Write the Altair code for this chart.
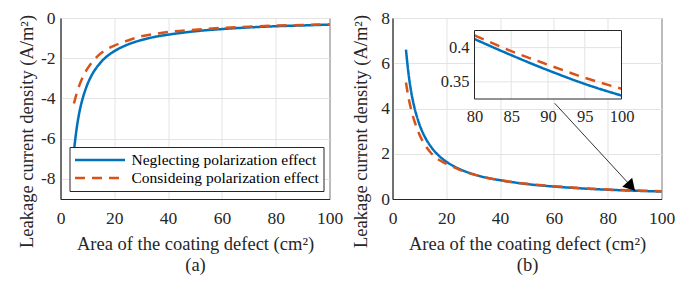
import altair as alt
import pandas as pd

FONT = "Liberation Serif"
BLUE = "#0072BD"
ORANGE = "#D95319"
INK = "#262626"
GRID = "#e3e3e3"

SERIES = ["Neglecting polarization effect", "Consideing polarization effect"]

# ---- data ----
area = [5, 6, 7, 8, 9, 10, 12, 14, 16, 18, 20, 25, 30, 35, 40, 50, 60, 70, 80, 90, 100]
a_neglect = [-6.6, -5.5, -4.7, -4.12, -3.67, -3.3, -2.75, -2.36, -2.06, -1.83, -1.65,
             -1.32, -1.1, -0.94, -0.83, -0.66, -0.55, -0.47, -0.41, -0.37, -0.33]
a_consider = [-4.25, -3.75, -3.35, -3.02, -2.75, -2.52, -2.15, -1.87, -1.66, -1.5, -1.37,
              -1.12, -0.91, -0.79, -0.7, -0.58, -0.49, -0.43, -0.38, -0.345, -0.315]
b_neglect = [6.6, 5.5, 4.7, 4.12, 3.67, 3.3, 2.75, 2.36, 2.06, 1.83, 1.65,
             1.32, 1.1, 0.94, 0.83, 0.66, 0.55, 0.47, 0.41, 0.367, 0.33]
b_consider = [5.15, 4.45, 3.92, 3.5, 3.15, 2.85, 2.4, 2.08, 1.84, 1.68, 1.56,
              1.29, 1.09, 0.94, 0.83, 0.67, 0.565, 0.485, 0.418, 0.375, 0.34]

inset_area = [80, 85, 90, 95, 100]
inset_neglect = [0.4125, 0.389, 0.367, 0.347, 0.330]
inset_consider = [0.418, 0.395, 0.375, 0.356, 0.340]

x_ticks = [0, 20, 40, 60, 80, 100]
a_yticks = [-8, -6, -4, -2, 0]
b_yticks = [0, 2, 4, 6, 8]
inset_xticks = [80, 85, 90, 95, 100]
inset_yticks = [0.35, 0.4]
inset_xdomain = [80, 100]
inset_ydomain = [0.325, 0.425]

arrow_x = [60.3, 90.3]
arrow_y = [4.23, 0.36]
head_xy = [88.7, 0.55]

X_TITLE = "Area of the coating defect (cm²)"
Y_TITLE = "Leakage current density (A/m²)"

# ---- layout (styling only) ----
W, H = 269, 181
INSET_XR = [82, 229]
INSET_YR = [81, 12.5]
TITLE_Y = 113


def long_df(xs, s1, s2):
    rows = []
    for name, ys in zip(SERIES, [s1, s2]):
        for x, y in zip(xs, ys):
            rows.append({"x": x, "y": y, "series": name})
    return pd.DataFrame(rows)


color_scale = alt.Scale(domain=SERIES, range=[BLUE, ORANGE])
dash_scale = alt.Scale(domain=SERIES, range=[[1, 0], [10, 7]])
minus_fix = "replace(datum.label, '\u2212', '-')"

legend = alt.Legend(
    orient="none", legendX=9, legendY=129, title=None,
    fillColor="white", strokeColor=INK, padding=4,
    labelFont=FONT, labelFontSize=15.5, labelColor="black", labelLimit=400,
    symbolType="stroke", symbolSize=2500, symbolStrokeWidth=2.5,
    clipHeight=18, labelOffset=5, rowPadding=0,
)

x_axis_common = dict(values=x_ticks, labelPadding=10, titlePadding=7.5)

# ---- panel (a) ----
dfa = long_df(area, a_neglect, a_consider)
left = alt.Chart(dfa).mark_line(strokeWidth=2.5, interpolate="monotone").encode(
    x=alt.X("x:Q", scale=alt.Scale(domain=[0, 100]),
            axis=alt.Axis(title=[X_TITLE, "(a)"], **x_axis_common)),
    y=alt.Y("y:Q", scale=alt.Scale(domain=[-9, 0]),
            axis=alt.Axis(values=a_yticks, title=Y_TITLE, labelExpr=minus_fix,
                          titleY=TITLE_Y, labelPadding=5.5, titlePadding=4)),
    color=alt.Color("series:N", scale=color_scale, legend=legend),
    strokeDash=alt.StrokeDash("series:N", scale=dash_scale, legend=legend),
).properties(width=W, height=H)

# ---- panel (b) ----
dfb = long_df(area, b_neglect, b_consider)


def xs_main():
    return alt.Scale(domain=[0, 100])


def ys_main():
    return alt.Scale(domain=[0, 8])


def xs_in():
    return alt.Scale(domain=inset_xdomain, range=INSET_XR)


def ys_in():
    return alt.Scale(domain=inset_ydomain, range=INSET_YR)


b_lines = alt.Chart(dfb).mark_line(strokeWidth=2.5, interpolate="monotone").encode(
    x=alt.X("x:Q", scale=xs_main(),
            axis=alt.Axis(orient="bottom", title=[X_TITLE, "(b)"], **x_axis_common)),
    y=alt.Y("y:Q", scale=ys_main(),
            axis=alt.Axis(orient="left", values=b_yticks, title=Y_TITLE, titleY=TITLE_Y,
                          labelPadding=3, titlePadding=10)),
    color=alt.Color("series:N", scale=color_scale, legend=None),
    strokeDash=alt.StrokeDash("series:N", scale=dash_scale, legend=None),
)

arrow_df = pd.DataFrame({"x": [arrow_x[0]], "x2": [arrow_x[1]],
                         "y": [arrow_y[0]], "y2": [arrow_y[1]]})
arrow = alt.Chart(arrow_df).mark_rule(color="black", strokeWidth=0.8).encode(
    x=alt.X("x:Q", scale=xs_main(), axis=None), x2="x2:Q",
    y=alt.Y("y:Q", scale=ys_main(), axis=None), y2="y2:Q",
)
head = alt.Chart(pd.DataFrame({"x": [head_xy[0]], "y": [head_xy[1]]})).mark_point(
    shape="triangle-up", filled=True, color="black", opacity=1, size=180, angle=138
).encode(
    x=alt.X("x:Q", scale=xs_main(), axis=None),
    y=alt.Y("y:Q", scale=ys_main(), axis=None),
)

box_df = pd.DataFrame({"x": [inset_xdomain[0]], "x2": [inset_xdomain[1]],
                       "y": [inset_ydomain[0]], "y2": [inset_ydomain[1]]})

in_bg = alt.Chart(box_df).mark_rect(fill="white", strokeWidth=0).encode(
    x=alt.X("x:Q", scale=xs_in(),
            axis=alt.Axis(orient="bottom", offset=-(H - INSET_YR[0]), values=inset_xticks,
                          grid=False, domain=False, ticks=False, title=None,
                          labelFontSize=16.5, labelPadding=9, labelFlush=False)),
    x2="x2:Q",
    y=alt.Y("y:Q", scale=ys_in(),
            axis=alt.Axis(orient="left", offset=-INSET_XR[0], values=inset_yticks,
                          grid=False, domain=False, ticks=False, title=None,
                          labelFontSize=16.5, labelPadding=5.5, format="~g")),
    y2="y2:Q",
)
vgrid_df = pd.DataFrame({"x": inset_xticks, "y": [inset_ydomain[0]] * len(inset_xticks),
                         "y2": [inset_ydomain[1]] * len(inset_xticks)})
in_vgrid = alt.Chart(vgrid_df).mark_rule(color=GRID, strokeWidth=1).encode(
    x=alt.X("x:Q", scale=xs_in(), axis=None),
    y=alt.Y("y:Q", scale=ys_in(), axis=None), y2="y2:Q",
)
hgrid_df = pd.DataFrame({"y": inset_yticks, "x": [inset_xdomain[0]] * len(inset_yticks),
                         "x2": [inset_xdomain[1]] * len(inset_yticks)})
in_hgrid = alt.Chart(hgrid_df).mark_rule(color=GRID, strokeWidth=1).encode(
    y=alt.Y("y:Q", scale=ys_in(), axis=None),
    x=alt.X("x:Q", scale=xs_in(), axis=None), x2="x2:Q",
)
dfi = long_df(inset_area, inset_neglect, inset_consider)
in_lines = alt.Chart(dfi).mark_line(strokeWidth=2.5, interpolate="monotone").encode(
    x=alt.X("x:Q", scale=xs_in(), axis=None),
    y=alt.Y("y:Q", scale=ys_in(), axis=None),
    color=alt.Color("series:N", scale=color_scale, legend=None),
    strokeDash=alt.StrokeDash("series:N", scale=dash_scale, legend=None),
)
in_border = alt.Chart(box_df).mark_rect(fill=None, stroke=INK, strokeWidth=1).encode(
    x=alt.X("x:Q", scale=xs_in(), axis=None), x2="x2:Q",
    y=alt.Y("y:Q", scale=ys_in(), axis=None), y2="y2:Q",
)

right = alt.layer(
    b_lines, arrow, head, in_bg, in_vgrid, in_hgrid, in_lines, in_border
).resolve_scale(x="independent", y="independent").properties(width=W, height=H)

chart = alt.hconcat(left, right, spacing=7).resolve_scale(
    color="independent", strokeDash="independent"
).resolve_legend(color="independent", strokeDash="independent").properties(
    padding={"left": 8.5, "top": 0, "right": 0, "bottom": 0}
).configure(font=FONT).configure_axis(
    labelFont=FONT, titleFont=FONT, labelFontSize=17.5, titleFontSize=18.5,
    titleFontWeight="normal", labelColor=INK, titleColor=INK, domainColor=INK,
    gridColor=GRID, ticks=False, titleLineHeight=21.5,
    labelFlush=False, labelOverlap=False,
).configure_view(stroke=INK, strokeWidth=1)

chart.save("out.html", embed_options={"renderer": "svg", "actions": False})
